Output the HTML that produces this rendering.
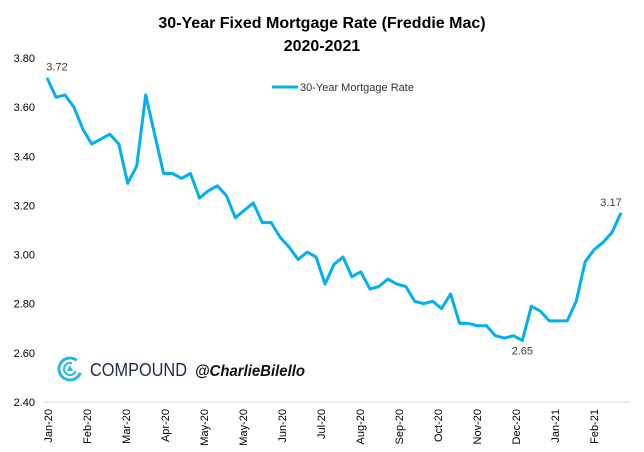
<!DOCTYPE html>
<html><head><meta charset="utf-8"><style>
body{margin:0;background:#fff;}
svg{display:block;font-family:"Liberation Sans",sans-serif;}
</style></head><body>
<svg id="chart" width="644" height="452" viewBox="0 0 644 452">
<text x="322" y="28" text-anchor="middle" font-size="16" font-weight="bold" fill="#000">30-Year Fixed Mortgage Rate (Freddie Mac)</text>
<text x="322" y="51" text-anchor="middle" font-size="16" font-weight="bold" fill="#000">2020-2021</text>
<g id="yaxis"></g>
<g id="xaxis"></g>
<line x1="44" x2="630" y1="402" y2="402" stroke="#d9d9d9" stroke-width="1"/>
<g>
<line x1="272" x2="298" y1="87" y2="87" stroke="#00b0f0" stroke-width="3"/>
<text x="300" y="91" font-size="11" fill="#333">30-Year Mortgage Rate</text>
</g>
<g>
<circle cx="70" cy="369" r="11" fill="none" stroke="#29b6e8" stroke-width="3" stroke-dasharray="55 14" transform="rotate(20 70 369)"/>
<circle cx="70" cy="369" r="6" fill="none" stroke="#29b6e8" stroke-width="2" stroke-dasharray="28 10" transform="rotate(20 70 369)"/>
<polygon points="70,365 67,371 73,371" fill="#29b6e8"/>
<text x="90" y="376" font-size="18" fill="#1f2a44" textLength="97" lengthAdjust="spacingAndGlyphs">COMPOUND</text>
<text x="195" y="376" font-size="16" font-style="italic" font-weight="bold" fill="#111" textLength="110" lengthAdjust="spacingAndGlyphs">@CharlieBilello</text>
</g>
<polyline id="line" fill="none" stroke="#00b0f0" stroke-width="3" stroke-linejoin="round"/>
<g id="labels"></g>
</svg>
<script>
const rates=[3.72,3.64,3.65,3.60,3.51,3.45,3.47,3.49,3.45,3.29,3.36,3.65,3.49,3.33,3.33,3.31,3.33,3.23,3.26,3.28,3.24,3.15,3.18,3.21,3.13,3.13,3.07,3.03,2.98,3.01,2.99,2.88,2.96,2.99,2.91,2.93,2.86,2.87,2.90,2.88,2.87,2.81,2.80,2.81,2.78,2.84,2.72,2.72,2.71,2.71,2.67,2.66,2.67,2.65,2.79,2.77,2.73,2.73,2.73,2.81,2.97,3.02,3.05,3.09,3.17];
const yTicks=[2.40,2.60,2.80,3.00,3.20,3.40,3.60,3.80];
const xLabels=["Jan-20","Feb-20","Mar-20","Apr-20","May-20","May-20","Jun-20","Jul-20","Aug-20","Sep-20","Oct-20","Nov-20","Dec-20","Jan-21","Feb-21"];
const labeledIdx=[0,53,64];
const NS="http://www.w3.org/2000/svg";
const x0=47,x1=621,yTop=58,yBot=402,vMin=2.4,vMax=3.8;
const xs=i=>x0+(x1-x0)*i/(rates.length-1);
const ys=v=>yBot-(v-vMin)/(vMax-vMin)*(yBot-yTop);
const yax=document.getElementById('yaxis');
yTicks.forEach(t=>{const e=document.createElementNS(NS,'text');


e.setAttribute('x',35);e.setAttribute('y',ys(t)+4);e.setAttribute('text-anchor','end');e.setAttribute('font-size','11');e.setAttribute('fill','#000');e.textContent=t.toFixed(2);yax.appendChild(e);});
const xax=document.getElementById('xaxis');
xLabels.forEach((l,i)=>{const cx=48+i*39;const e=document.createElementNS(NS,'text');


e.setAttribute('transform','translate('+(cx+4)+',409) rotate(-90)');e.setAttribute('text-anchor','end');e.setAttribute('font-size','11');e.setAttribute('fill','#000');e.textContent=l;xax.appendChild(e);});
document.getElementById('line').setAttribute('points',rates.map((v,i)=>xs(i).toFixed(1)+','+ys(v).toFixed(1)).join(' '));
const lg=document.getElementById('labels');
labeledIdx.forEach(i=>{const e=document.createElementNS(NS,'text');


const below=(i===53);
e.setAttribute('x',xs(i)-(i===64?10:(i===0?-10:0)));e.setAttribute('y',below?ys(rates[i])+14:ys(rates[i])-7);e.setAttribute('text-anchor','middle');e.setAttribute('font-size','11');e.setAttribute('fill','#404040');e.textContent=rates[i].toFixed(2);lg.appendChild(e);});
</script>
</body></html>
